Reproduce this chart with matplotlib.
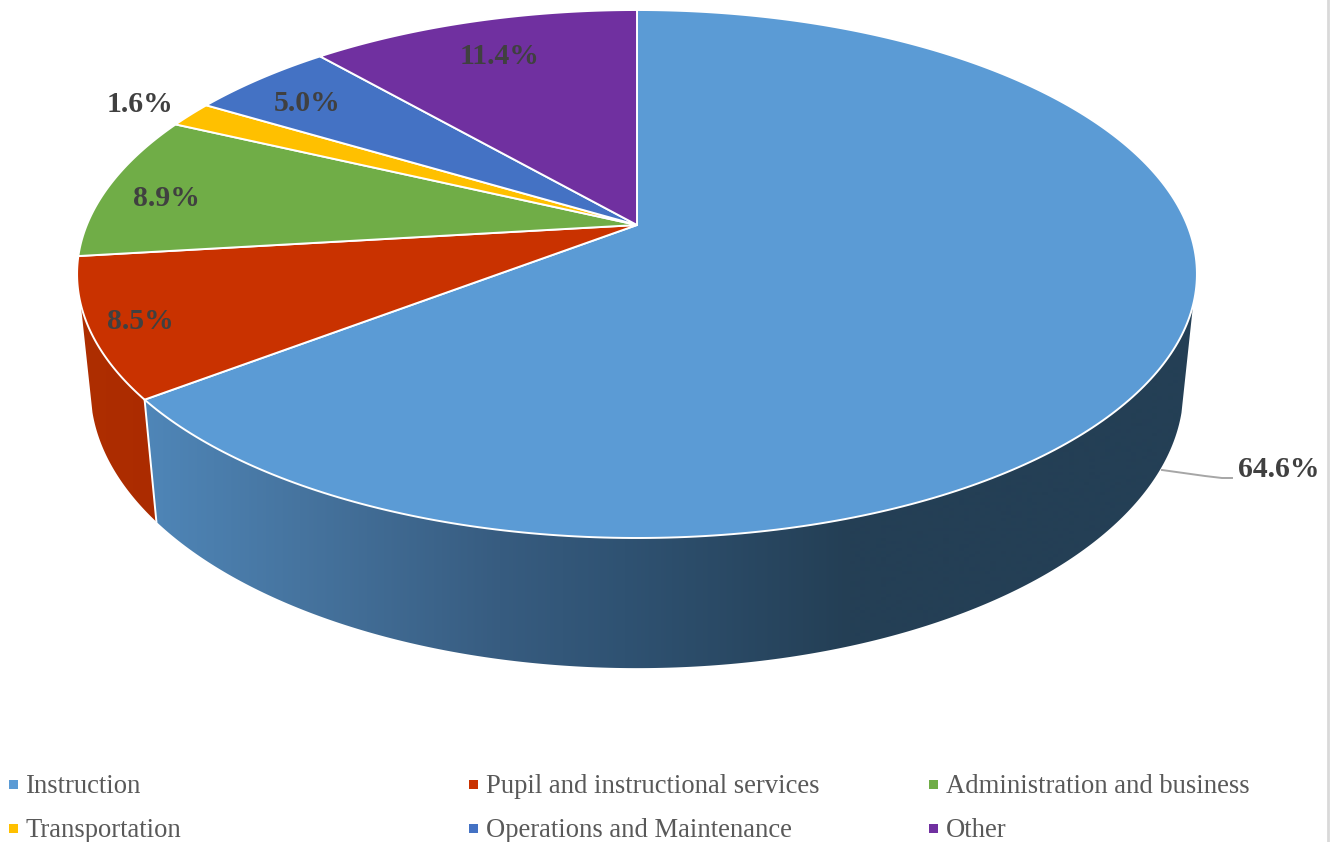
import numpy as np
import matplotlib
matplotlib.use("Agg")
from matplotlib import pyplot as plt
from matplotlib.patches import Polygon, Rectangle

categories = ["Instruction", "Pupil and instructional services", "Administration and business",
              "Transportation", "Operations and Maintenance", "Other"]
shares = [64.6, 8.5, 8.9, 1.6, 5.0, 11.4]
colors = ["#5B9BD5", "#C93200", "#70AD47", "#FFC000", "#4472C4", "#7030A0"]

# pixel positions of the percent labels, same order as the categories
label_x = [1278.5, 140, 166, 140, 307, 500]
label_y = [469.5, 321.5, 198.5, 104.5, 103.5, 56.5]

# disc projection
cx, cy = 637, 225
rx, ry = 550.2, 254.9
tilt = 0.1856
# lower rim of the disc
rim_sx, rim_sy, rim_cy = 0.976, 1.058, 337


def disc_point(deg):
    a = np.radians(deg)
    w = 1 + tilt * np.cos(a)
    return cx + rx * np.sin(a) / w, cy - ry * np.cos(a) / w


def rim_point(deg):
    x, y = disc_point(deg)
    return cx + (x - cx) * rim_sx, rim_cy + (y - cy) * rim_sy


def wall_polygon(a0, a1):
    # side wall between two angles; the rim starts higher so the flank runs straight down
    deg = np.linspace(a0, a1, 400)
    x, y = disc_point(deg)
    top = y >= 304
    low = y >= 296
    x2, y2 = rim_point(deg[low])
    return np.r_[np.c_[x[top], y[top]], np.c_[x2, y2][::-1]]


def wall_gradient(ax, poly, xs, stops):
    # horizontal shading clipped to the wall shape
    rgb = np.array([matplotlib.colors.to_rgb(c) for c in stops])
    grid = np.linspace(0, 1335, 1336)
    img = np.stack([np.interp(grid, xs, rgb[:, i]) for i in range(3)], axis=-1)[None, :, :]
    im = ax.imshow(img, extent=(0, 1335, 842, 0), aspect="auto", interpolation="bilinear", zorder=1)
    patch = Polygon(poly, closed=True, transform=ax.transData, facecolor="none", edgecolor="none")
    ax.add_patch(patch)
    im.set_clip_path(patch)


plt.rcParams["font.family"] = ["Liberation Serif", "DejaVu Serif"]

fig = plt.figure(figsize=(13.35, 8.42), dpi=100)
ax = fig.add_axes([0, 0, 1, 1])

edges = np.r_[0, np.cumsum(shares)] * 3.6

# walls: only the first two slices face the viewer
wall_gradient(ax, wall_polygon(edges[0], edges[1]),
              [145, 300, 500, 625, 850, 1200],
              ["#4F86B8", "#46749F", "#375C80", "#2F5272", "#243F55", "#243F55"])
wall_gradient(ax, wall_polygon(edges[1], edges[2]),
              [78, 160], ["#AE2E00", "#AB2B00"])

# seam between the two walls
sx0, sy0 = disc_point(edges[1])
sx1, sy1 = rim_point(edges[1])
ax.plot([sx0, sx1], [sy0, sy1], color="white", lw=1.4, zorder=2)

# top faces
for i in range(len(shares)):
    deg = np.linspace(edges[i], edges[i + 1], 300)
    x, y = disc_point(deg)
    pts = np.r_[[[cx, cy]], np.c_[x, y]]
    ax.add_patch(Polygon(pts, closed=True, facecolor=colors[i], edgecolor="white", lw=1.4,
                         joinstyle="round", zorder=3))

# leader line for the big slice
ax.plot([1162, 1205, 1222, 1232], [470, 476, 478, 478], color="#A6A6A6", lw=1.4, zorder=2)

for i in range(len(shares)):
    ax.text(label_x[i], label_y[i], "%.1f%%" % shares[i], fontsize=21.4, fontweight="bold",
            color="#404040", ha="center", va="center", zorder=4)

# legend, two rows of three
col_x = [9, 469, 929]
row_y = [793, 837]
for i in range(len(categories)):
    lx = col_x[i % 3]
    by = row_y[i // 3]
    ax.add_patch(Rectangle((lx, by - 13), 8.5, 8.5, facecolor=colors[i], edgecolor="none", zorder=3))
    ax.text(lx + 16.5, by, categories[i], fontsize=19.15, color="#595959", ha="left", va="baseline", zorder=4)

# frame edge on the right
ax.plot([1328, 1328], [0, 842], color="#D9D9D9", lw=2, zorder=1)

ax.set_xlim(0, 1335)
ax.set_ylim(842, 0)
ax.axis("off")

fig.savefig("out.png", dpi=100, facecolor="white")
